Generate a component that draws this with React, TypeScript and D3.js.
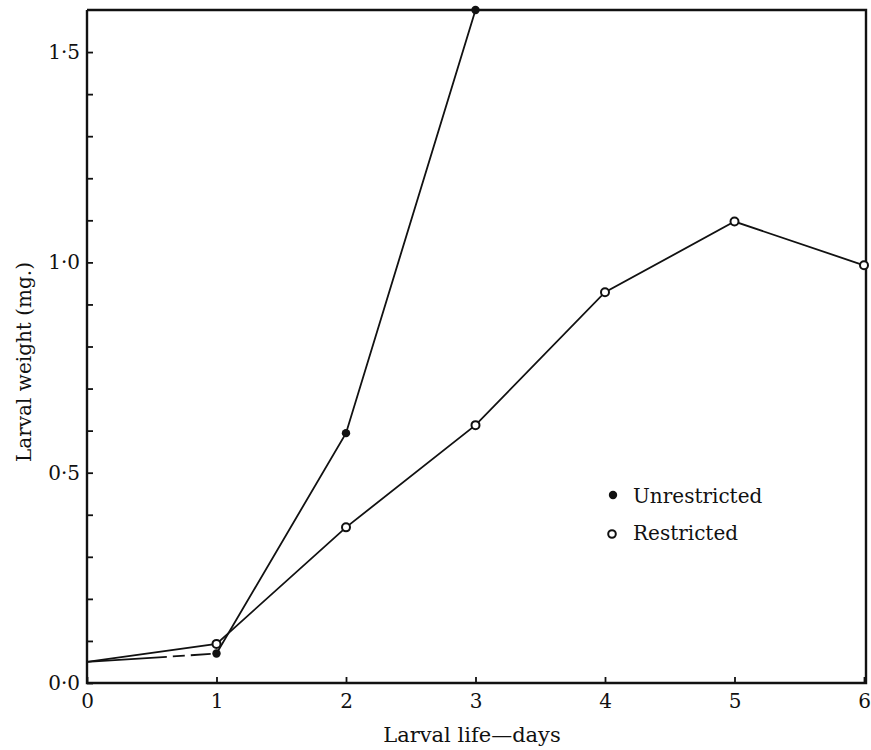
import { useEffect, useRef } from 'react';
import * as d3 from 'd3';

const days = [0, 1, 2, 3, 4, 5, 6];
const unrestrictedDays = [0, 1, 2, 3];
const unrestrictedWeight = [0.05, 0.07, 0.594, 1.6];
const restrictedDays = [0, 1, 2, 3, 4, 5, 6];
const restrictedWeight = [0.05, 0.093, 0.37, 0.613, 0.929, 1.097, 0.993];
const yLabelTicks = [0, 0.5, 1.0, 1.5];
const yMinorTicks = d3.range(0, 1.6, 0.1);

const FONT = '"DejaVu Serif", "Liberation Serif", serif';

export default function App() {
    const xAxis = useRef<SVGGElement>(null);
    const yAxis = useRef<SVGGElement>(null);

    const P = {
        width: 871,
        height: 750,
        margin: { left: 87, right: 7, top: 10, bottom: 67 }
    };
    const x0 = P.margin.left;
    const x1 = P.width - P.margin.right;
    const y0 = P.height - P.margin.bottom;
    const y1 = P.margin.top;

    const xScale = d3.scaleLinear().domain([0, 6]).range([x0, x1]);
    const yScale = d3.scaleLinear().domain([0, 1.6]).range([y0, y1]);

    const unrestricted = unrestrictedDays.map((d, i) => ({ x: d, y: unrestrictedWeight[i] }));
    const restricted = restrictedDays.map((d, i) => ({ x: d, y: restrictedWeight[i] }));

    const line = d3.line<{ x: number; y: number }>()
        .x((d) => xScale(d.x))
        .y((d) => yScale(d.y));

    const fmt = (v: number) => d3.format('.1f')(v).replace('.', '·');

    useEffect(() => {
        const xa = d3.axisBottom(xScale).tickValues(days).tickSize(-6).tickPadding(11).tickFormat((d) => String(d));
        const ya = d3.axisLeft(yScale).tickValues(yMinorTicks).tickSize(-6).tickPadding(7)
            .tickFormat((d) => (yLabelTicks.some((t) => Math.abs(t - +d) < 1e-6) ? fmt(+d) : ''));

        const gx = d3.select(xAxis.current!).call(xa as any);
        const gy = d3.select(yAxis.current!).call(ya as any);
        [gx, gy].forEach((g) => {
            g.select('.domain').remove();
            g.selectAll('line').attr('stroke', '#111').attr('stroke-width', 1.8);
            g.selectAll('text').attr('fill', '#111').style('font-family', FONT).style('font-size', '20px');
        });
    }, []);

    return (
        <svg width={P.width} height={P.height} style={{ position: 'absolute', left: 0, top: 0, background: '#fff' }}>
            {/* frame */}
            <path d={`M${x0},${y1}V${y0}H${x1 + 2}V${y1}H${x0}`} fill="none" stroke="#111" strokeWidth={2.4} />
            <g ref={xAxis} transform={`translate(0, ${y0})`} />
            <g ref={yAxis} transform={`translate(${x0}, 0)`} />

            {/* lines */}
            <path d={line(restricted)!} fill="none" stroke="#111" strokeWidth={1.8} />
            <path d={line(unrestricted.slice(1))!} fill="none" stroke="#111" strokeWidth={1.8} />
            <path d={line(unrestricted.slice(0, 2))!} fill="none" stroke="#111" strokeWidth={1.8} strokeDasharray="80,6,12,6,20,4" />

            {restricted.slice(1).map((d, i) => (
                <circle key={'r' + i} cx={xScale(d.x)} cy={yScale(d.y)} r={4} fill="#fff" stroke="#111" strokeWidth={2} />
            ))}
            {unrestricted.slice(1).map((d, i) => (
                <circle key={'u' + i} cx={xScale(d.x)} cy={yScale(d.y)} r={4.2} fill="#111" />
            ))}

            {/* legend */}
            <circle cx={613} cy={495} r={4.2} fill="#111" />
            <text x={633} y={503} fontFamily={FONT} fontSize={20} fill="#111">Unrestricted</text>
            <circle cx={612} cy={534} r={3.8} fill="#fff" stroke="#111" strokeWidth={2} />
            <text x={633} y={540} fontFamily={FONT} fontSize={20} fill="#111">Restricted</text>

            {/* axis titles */}
            <text x={472} y={742} textAnchor="middle" fontFamily={FONT} fontSize={21} fill="#111">Larval life—days</text>
            <text transform={`translate(31, 362) rotate(-90)`} textAnchor="middle" fontFamily={FONT} fontSize={20} fill="#111">Larval weight (mg.)</text>
        </svg>
    );
}
